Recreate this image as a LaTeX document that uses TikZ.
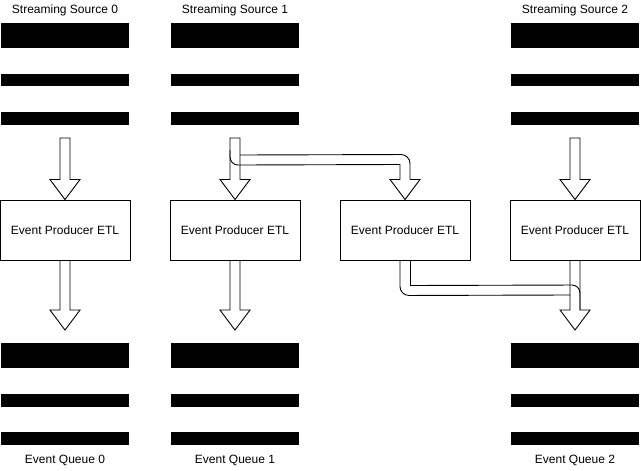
\documentclass[tikz,border=0pt]{standalone}
\usepackage{fontspec}
\setmainfont{Liberation Sans}
\usetikzlibrary{calc}
\tikzset{
  lbl/.style={inner sep=0pt, font=\fontsize{12pt}{14pt}\selectfont},
  etlbox/.style={draw=black, line width=1pt, fill=white, minimum width=130pt, minimum height=60pt, inner sep=0pt, font=\fontsize{12pt}{14pt}\selectfont},
  barthick/.style={fill=black, draw=none, minimum width=128pt, minimum height=25.5pt, inner sep=0pt},
  barthin/.style={fill=black, draw=none, minimum width=128pt, minimum height=12.5pt, inner sep=0pt},
  blk/.style={draw=black, line width=0.9pt, line join=miter},
}
\newcommand{\blockdown}[2]{%
  \draw[blk] ($(#1)+(-5,0)$) -- ($(#1)+(5,0)$) -- ($(#2)+(5,-20)$) -- ($(#2)+(15,-20)$) -- (#2) -- ($(#2)+(-15,-20)$) -- ($(#2)+(-5,-20)$) -- cycle;}
\begin{document}
\begin{tikzpicture}[x=1pt,y=-1pt]
\useasboundingbox (0,0) rectangle (641,471);
% labels
\node[lbl] (ls0) at (65,10) {Streaming Source 0};
\node[lbl] (ls1) at (235,10) {Streaming Source 1};
\node[lbl] (ls2) at (575,10) {Streaming Source 2};
\node[lbl] (lq0) at (65,460) {Event Queue 0};
\node[lbl] (lq1) at (235,460) {Event Queue 1};
\node[lbl] (lq2) at (575,460) {Event Queue 2};
% source bars
\foreach \c/\n in {65/0,235/1,575/2}{
  \node[barthick] (s\n a) at (\c,35.5) {};
  \node[barthin]  (s\n b) at (\c,80) {};
  \node[barthin]  (s\n c) at (\c,118.5) {};
  \node[barthick] (q\n a) at (\c,355.5) {};
  \node[barthin]  (q\n b) at (\c,400.5) {};
  \node[barthin]  (q\n c) at (\c,438.5) {};
}
% ETL boxes
\node[etlbox] (etl0) at (65,230) {Event Producer ETL};
\node[etlbox] (etl1) at (235,230) {Event Producer ETL};
\node[etlbox] (etl2) at (405,230) {Event Producer ETL};
\node[etlbox] (etl3) at (575,230) {Event Producer ETL};
% arrow ends
\coordinate (t0) at (65,138);
\coordinate (t1) at (235,138);
\coordinate (t3) at (575,138);
\coordinate (b0) at (65,330);
\coordinate (b1) at (235,330);
\coordinate (b3) at (575,330);
% straight block arrows
\blockdown{t0}{etl0.north}
\blockdown{t1}{etl1.north}
\blockdown{t3}{etl3.north}
\blockdown{etl0.south}{b0}
\blockdown{etl1.south}{b1}
\blockdown{etl3.south}{b3}
% branch: source 1 -> ETL 2
\draw[blk, rounded corners=9pt] ($(t1)+(5,17)$) -- ($(etl2.north)+(5,-45)$) -- ($(etl2.north)+(5,-20)$);
\draw[blk] ($(etl2.north)+(-5,-20)$) -- ($(etl2.north)+(-5,-35)$) -- ($(t1)+(5,27)$);
\draw[blk, rounded corners=8pt] ($(t1)+(5,27)$) -- ($(t1)+(-5,27)$) -- ($(t1)+(-5,12)$);
\draw[blk] ($(etl2.north)+(5,-20)$) -- ($(etl2.north)+(15,-20)$) -- (etl2.north) -- ($(etl2.north)+(-15,-20)$) -- ($(etl2.north)+(-5,-20)$);
% branch: ETL 2 -> queue 2
\draw[blk, rounded corners=9pt] ($(etl2.south)+(-5,0)$) -- ($(etl2.south)+(-5,35)$) -- ($(b3)+(-5,-35)$);
\draw[blk, rounded corners=8pt] ($(b3)+(5,-20)$) -- ($(b3)+(5,-45)$) -- ($(etl2.south)+(5,25)$);
\draw[blk] ($(etl2.south)+(5,25)$) -- ($(etl2.south)+(5,0)$);
\end{tikzpicture}
\end{document}
